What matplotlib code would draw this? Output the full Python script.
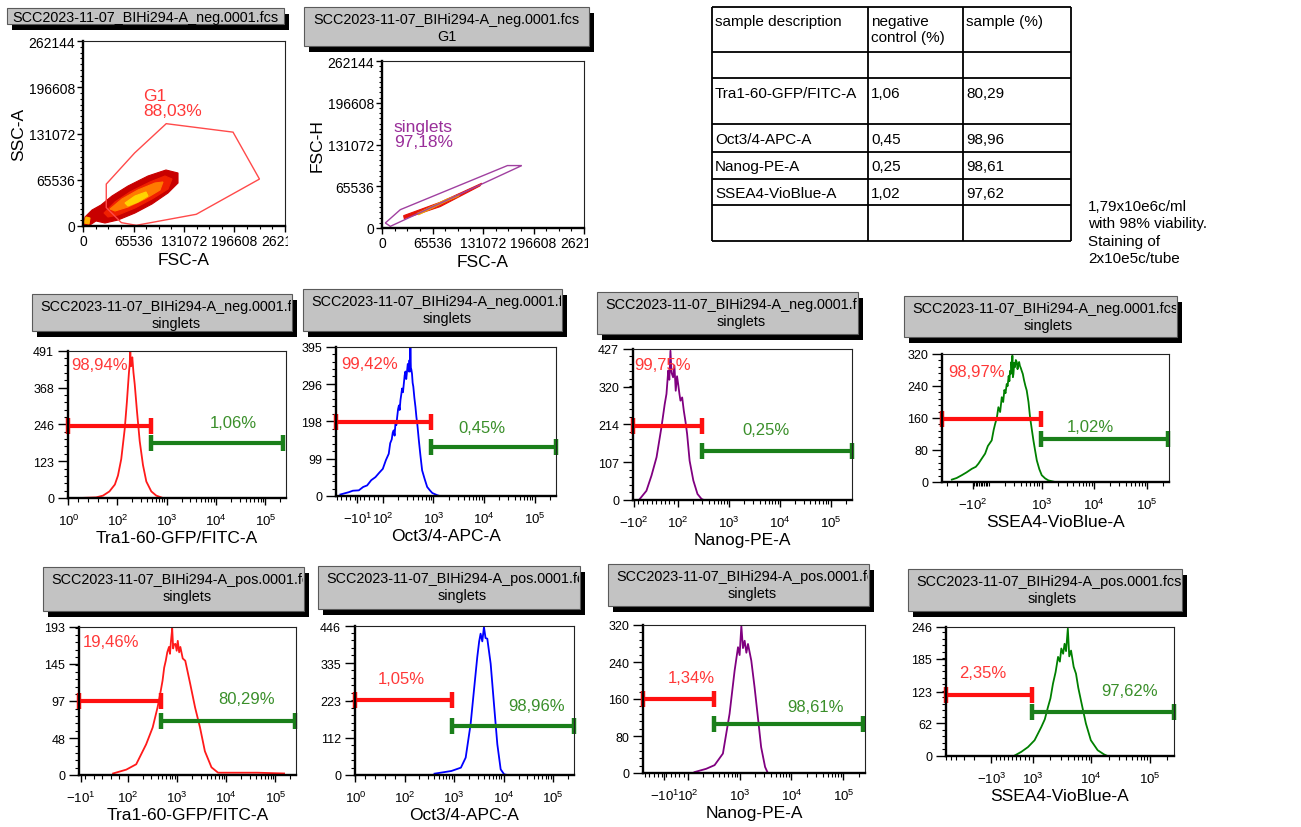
import numpy as np
import matplotlib
matplotlib.use("Agg")
import matplotlib.pyplot as plt
from matplotlib.patches import Rectangle, Polygon
from matplotlib.ticker import FixedLocator, AutoMinorLocator
from matplotlib.transforms import Bbox, TransformedBbox

plt.rcParams['font.family'] = ['Liberation Sans', 'DejaVu Sans']
plt.rcParams['mathtext.fontset'] = 'custom'
plt.rcParams['mathtext.rm'] = 'Liberation Sans'
plt.rcParams['mathtext.it'] = 'Liberation Sans:italic'
plt.rcParams['mathtext.bf'] = 'Liberation Sans:bold'

#Data

scatter_ticks = [0, 65536, 131072, 196608, 262144]
scatter_ticklabels = ["0", "65536", "131072", "196608", "262144"]

# G1 gate (FSC-A / SSC-A)
g1_gate_x = [30200, 67000, 108000, 194700, 229000, 147000, 69200, 49800, 30200]
g1_gate_y = [59400, 103500, 145000, 133000, 66500, 16600, 1000, 4750, 26100]

# density cloud layers, outer to inner
cloud_outer_x = [1300, 2600, 11700, 23360, 37630, 58400, 84350, 107700, 123300, 123300,
                 110300, 89540, 67480, 45420, 28550, 16870, 9080]
cloud_outer_y = [0, 12750, 22670, 29760, 42510, 56680, 70850, 79350, 75100, 60930,
                 46760, 31170, 18420, 8500, 4250, 7090, 1420]
cloud_red_x = [27250, 41530, 60990, 86940, 106400, 115500, 110300, 89540, 67480, 45420, 32440]
cloud_red_y = [18420, 34010, 48180, 62350, 70850, 66600, 52430, 38260, 25510, 15590, 12750]
cloud_orange_x = [35040, 50610, 71370, 93430, 103800, 99920, 80460, 58400, 41530]
cloud_orange_y = [24090, 38260, 51010, 60930, 62350, 51010, 38260, 26920, 21260]
cloud_yellow_x = [54500, 67480, 81750, 84350, 71370, 58400]
cloud_yellow_y = [32590, 42510, 48180, 42510, 34010, 28340]
debris_x = [1300, 3900, 9080, 7790]
debris_y = [4250, 12750, 11340, 2830]

# singlets gate (FSC-A / FSC-H)
singlets_gate_x = [4300, 23800, 162800, 181400, 10800]
singlets_gate_y = [7900, 28800, 98000, 98000, 2600]
streak_x = [28100, 75600, 129600, 127000, 75600, 28900]
streak_y = [19400, 40400, 70300, 66000, 33600, 14700]
streak_core_x = [45350, 84220, 101500, 99340, 84220, 47510]
streak_core_y = [23070, 45610, 53480, 49810, 41940, 20450]

# table
table_header = ["sample description", "negative\ncontrol (%)", "sample (%)"]
markers = ["Tra1-60-GFP/FITC-A", "Oct3/4-APC-A", "Nanog-PE-A", "SSEA4-VioBlue-A"]
neg_control_pct = ["1,06", "0,45", "0,25", "1,02"]
sample_pct = ["80,29", "98,96", "98,61", "97,62"]
side_note = "1,79x10e6c/ml\nwith 98% viability.\nStaining of\n2x10e5c/tube"

# histograms: intensity values and counts
tra_neg_x = [24, 57, 71, 84, 95, 103, 120, 141, 156, 172, 178, 183, 189, 195, 201, 212, 225, 250, 284, 331, 387, 488, 615, 840]
tra_neg_y = [0, 2, 8, 22, 45, 75, 130, 230, 320, 420, 445, 491, 440, 455, 470, 420, 380, 290, 190, 110, 55, 22, 8, 0]
oct_neg_x = [-84, -60, -48, -30, -4, 15, 32, 50, 68, 85, 100, 115, 131, 140, 150, 157, 164, 171, 178, 185,
             192, 200, 208, 215, 223, 232, 240, 250, 260, 270, 280, 290, 302, 311, 320, 328, 336, 343, 350, 358,
             366, 377, 388, 400, 420, 441, 460, 480, 514, 550, 597, 670, 751, 850, 947, 1190, 1330]
oct_neg_y = [4, 8, 10, 14, 15, 24, 28, 42, 50, 62, 72, 95, 112, 140, 150, 168, 174, 160, 195, 188,
             209, 230, 240, 228, 254, 270, 285, 275, 298, 320, 330, 310, 333, 350, 345, 330, 360, 330, 395, 340,
             335, 324, 300, 290, 260, 236, 210, 190, 148, 110, 68, 45, 24, 15, 8, 2, 0]
nanog_neg_x = [-74, -44, -21, 2, 24, 39, 47, 55, 60, 65, 70, 77, 83, 89, 95, 100, 106, 111, 120, 129,
               140, 150, 168, 199, 240, 288, 320]
nanog_neg_y = [3, 26, 69, 121, 205, 271, 300, 366, 340, 422, 360, 347, 380, 309, 350, 328, 300, 281, 290, 253,
               220, 187, 111, 55, 17, 3, 0]
ssea_neg_x = [-247, -200, -160, -130, -103, -60, -28, 10, 52, 85, 112, 122, 130, 140, 150, 162, 174, 185, 195,
              205, 216, 225, 235, 243, 250, 258, 265, 271, 277, 283, 290, 300, 309, 322, 335, 347, 359, 372, 385,
              400, 416, 437, 460, 490, 518, 560, 600, 650, 695, 750, 806, 900, 1000, 1160, 1340, 1790]
ssea_neg_y = [6, 10, 17, 24, 33, 38, 46, 58, 71, 90, 104, 130, 145, 160, 187, 175, 212, 200, 230,
              222, 245, 240, 265, 252, 278, 270, 300, 282, 316, 262, 270, 298, 287, 305, 300, 282, 295, 300, 290,
              285, 278, 270, 255, 240, 229, 200, 162, 130, 104, 78, 54, 32, 17, 9, 4, 0]
tra_pos_x = [65, 96, 147, 234, 318, 399, 450, 505, 545, 587, 630, 683, 715, 750, 794, 830, 860, 924, 980, 1030,
             1100, 1163, 1300, 1464, 1843, 2320, 2920, 3670, 5000, 6800, 12500, 43000, 150000]
tra_pos_y = [2, 7, 14, 40, 62, 88, 105, 123, 140, 149, 160, 167, 158, 175, 191, 165, 170, 171, 162, 175,
             160, 167, 152, 149, 119, 88, 62, 31, 10, 3, 3, 3, 2]
oct_pos_x = [402, 880, 1370, 1710, 2150, 2510, 2930, 3200, 3420, 3700, 4000, 4300, 4670, 5460, 6370,
             7440, 8690, 10200, 11900]
oct_pos_y = [4, 12, 22, 52, 152, 253, 353, 400, 423, 400, 443, 410, 408, 333, 212, 92, 17, 2, 0]
nanog_pos_x = [135, 226, 329, 476, 640, 800, 931, 1000, 1080, 1160, 1250, 1350, 1450, 1680, 1940,
               2250, 2600, 3100, 3500]
nanog_pos_y = [2, 9, 17, 42, 128, 221, 272, 255, 318, 270, 286, 260, 279, 243, 186, 121, 56, 13, 0]
ssea_pos_x = [127, 444, 762, 1068, 1390, 1600, 1810, 2000, 2210, 2450, 2700, 2900, 3070, 3300, 3490, 3700,
              3970, 4200, 4510, 5000, 5480, 6000, 6660, 8100, 9850, 12900, 16600, 19000]
ssea_pos_y = [1, 8, 17, 30, 55, 70, 93, 110, 138, 160, 189, 180, 205, 195, 214, 200,
              243, 190, 201, 170, 157, 130, 106, 62, 30, 11, 3, 0]

hist_x = [tra_neg_x, oct_neg_x, nanog_neg_x, ssea_neg_x, tra_pos_x, oct_pos_x, nanog_pos_x, ssea_pos_x]
hist_y = [tra_neg_y, oct_neg_y, nanog_neg_y, ssea_neg_y, tra_pos_y, oct_pos_y, nanog_pos_y, ssea_pos_y]
hist_files = ["neg"] * 4 + ["pos"] * 4
hist_labels = markers + markers

y_ticklabels = [[0, 123, 246, 368, 491], [0, 99, 198, 296, 395], [0, 107, 214, 320, 427],
                [0, 80, 160, 240, 320], [0, 48, 97, 145, 193], [0, 112, 223, 335, 446],
                [0, 80, 160, 240, 320], [0, 62, 123, 185, 246]]
x_ticks = [[1, 100, 1e3, 1e4, 1e5], [-10, 100, 1e3, 1e4, 1e5], [-100, 100, 1e3, 1e4, 1e5],
           [-100, 1e3, 1e4, 1e5], [-10, 100, 1e3, 1e4, 1e5], [1, 100, 1e3, 1e4, 1e5],
           [-10, 100, 1e3, 1e4, 1e5], [-1e3, 1e3, 1e4, 1e5]]
x_ticklabels = [[r"$10^{0}$", r"$10^{2}$", r"$10^{3}$", r"$10^{4}$", r"$10^{5}$"],
                [r"$-10^{1}$", r"$10^{2}$", r"$10^{3}$", r"$10^{4}$", r"$10^{5}$"],
                [r"$-10^{2}$", r"$10^{2}$", r"$10^{3}$", r"$10^{4}$", r"$10^{5}$"],
                [r"$-10^{2}$", r"$10^{3}$", r"$10^{4}$", r"$10^{5}$"],
                [r"$-10^{1}$", r"$10^{2}$", r"$10^{3}$", r"$10^{4}$", r"$10^{5}$"],
                [r"$10^{0}$", r"$10^{2}$", r"$10^{3}$", r"$10^{4}$", r"$10^{5}$"],
                [r"$-10^{1}$", r"$10^{2}$", r"$10^{3}$", r"$10^{4}$", r"$10^{5}$"],
                [r"$-10^{3}$", r"$10^{3}$", r"$10^{4}$", r"$10^{5}$"]]

# gates: red covers [axis min, split], green covers [split, green_end]
gate_split = [490, 900, 290, 970, 470, 910, 316, 980]
green_end = [230000, 257000, 260000, 251000, 250000, 262144, 240000, 262144]
red_gate_y = [241, 196, 210, 158, 97, 224, 160, 117]
green_gate_y = [183, 130, 139, 108, 71, 147, 105, 83]
red_pct = ["98,94%", "99,42%", "99,75%", "98,97%", "19,46%", "1,05%", "1,34%", "2,35%"]
green_pct = ["1,06%", "0,45%", "0,25%", "1,02%", "80,29%", "98,96%", "98,61%", "97,62%"]

#Layout (pixels)

W, H = 1301, 828
x_max = 262144
# symlog settings approximating the logicle display: (linthresh, linscale, left limit)
scale_cfg = [(100, 0.9, 0), (100, 0.41, -103), (100, 0.39, -105), (100, 0.142, -380),
             (100, 0.78, -15), (100, 0.9, 0), (100, 0.37, -110), (1000, 0.32, -6000)]
hist_boxes = [(68, 352, 286, 499), (336, 348, 556, 497), (633, 350, 852, 501), (942, 355, 1169, 483),
              (79, 628, 296, 776), (355, 627, 574, 776), (643, 626, 865, 774), (946, 628, 1174, 757)]
title_boxes = [(32, 295, 292, 332), (303, 290, 562, 332), (597, 293, 858, 335), (904, 297, 1177, 338),
               (43, 568, 304, 612), (318, 567, 580, 610), (608, 565, 869, 607), (908, 570, 1182, 612)]
red_txt_pos = [(0.145, 0.91), (0.152, 0.888), (0.134, 0.90), (0.154, 0.865),
               (0.146, 0.905), (0.213, 0.645), (0.218, 0.647), (0.16, 0.651)]
green_txt_pos = [(0.76, 0.515), (0.663, 0.459), (0.609, 0.47), (0.652, 0.43),
                 (0.773, 0.514), (0.828, 0.465), (0.779, 0.449), (0.806, 0.504)]
hist_colors = ["#ff1a1a", "#0000ff", "#800080", "#008000"] * 2

RED_GATE = "#ff1010"
GREEN_GATE = "#1a7f1a"
RED_TXT = "#ff3838"
GREEN_TXT = "#3a8f2a"

fig = plt.figure(figsize=(W / 100, H / 100), dpi=100)

def box_axes(l, t, r, b):
    return fig.add_axes([l / W, 1 - b / H, (r - l) / W, (b - t) / H])

def pixel_clip(l, t, r, b):
    return TransformedBbox(Bbox([[l / W, 1 - b / H], [r / W, 1 - t / H]]), fig.transFigure)

bg = fig.add_axes([0, 0, 1, 1])
bg.set_xlim(0, W)
bg.set_ylim(H, 0)
bg.axis("off")

def title_box(l, t, r, b, lines, centered):
    bg.add_patch(Rectangle((l + 5, t + 6), r - l, b - t, facecolor="black", edgecolor="none", zorder=1))
    bg.add_patch(Rectangle((l, t), r - l, b - t, facecolor="#c3c3c3", edgecolor="#5a5a5a", lw=0.8, zorder=2))
    if centered:
        bg.text((l + r) / 2, (t + b) / 2 + 1, "\n".join(lines), ha="center", va="center",
                fontsize=10.4, linespacing=1.2, zorder=3)
    else:
        t1 = bg.text(l + 8, t + 12, lines[0], ha="left", va="center", fontsize=10.4, zorder=3)
        t1.set_clip_box(pixel_clip(l, t, r - 1, b))
        t1.set_clip_on(True)
        bg.text(l + 8 + 136, t + 29, lines[1], ha="center", va="center", fontsize=10.4, zorder=3)

def style_spines(ax):
    for s in ["left", "bottom"]:
        ax.spines[s].set_linewidth(1.7)
        ax.spines[s].set_color("black")
    for s in ["top", "right"]:
        ax.spines[s].set_linewidth(0.8)
        ax.spines[s].set_color("#222222")

def clip_xticklabels(ax, right_px):
    clip = pixel_clip(0, 0, right_px, H)
    for tk in ax.xaxis.get_major_ticks():
        tk.label1.set_clip_box(clip)
        tk.label1.set_clip_on(True)

def scatter_axes(box, ylabel, clip_px):
    ax = box_axes(*box)
    ax.set_xlim(0, x_max)
    ax.set_ylim(0, x_max)
    ax.set_xticks(scatter_ticks, scatter_ticklabels, fontsize=10)
    ax.set_yticks(scatter_ticks, scatter_ticklabels, fontsize=10)
    ax.xaxis.set_minor_locator(AutoMinorLocator(4))
    ax.yaxis.set_minor_locator(AutoMinorLocator(8))
    style_spines(ax)
    ax.tick_params(which="major", direction="out", length=4, width=1, pad=1.5)
    ax.tick_params(which="minor", direction="out", length=2.5, width=0.8)
    ax.set_xlabel("FSC-A", fontsize=12.5, labelpad=3)
    ax.set_ylabel(ylabel, fontsize=12.5, labelpad=2)
    clip_xticklabels(ax, clip_px)
    return ax

#Top row: scatter plots

title_box(7, 9, 284, 25, ["SCC2023-11-07_BIHi294-A_neg.0001.fcs"], True)
ax = scatter_axes((83, 42, 285, 227), "SSC-A", 288)
for xs, ys, c in [(cloud_outer_x, cloud_outer_y, "#c80000"), (cloud_red_x, cloud_red_y, "#f02000"),
                  (cloud_orange_x, cloud_orange_y, "#ff7a00"), (cloud_yellow_x, cloud_yellow_y, "#ffd400"),
                  (debris_x, debris_y, "#ffb000")]:
    ax.add_patch(Polygon(np.column_stack([xs, ys]), closed=True, facecolor=c, edgecolor=c, lw=0.8))
ax.add_patch(Polygon(np.column_stack([g1_gate_x, g1_gate_y]), closed=True, fill=False,
                     edgecolor="#ff4a4a", lw=1.0))
ax.text(78000, 196000, "G1\n88,03%", color=RED_TXT, fontsize=12.5, ha="left", va="top", linespacing=1.05)

title_box(304, 8, 589, 47, ["SCC2023-11-07_BIHi294-A_neg.0001.fcs", "G1"], True)
ax = scatter_axes((382, 62, 584, 229), "FSC-H", 588)
ax.add_patch(Polygon(np.column_stack([streak_x, streak_y]), closed=True, facecolor="#e8140a",
                     edgecolor="#e8140a", lw=0.8))
ax.add_patch(Polygon(np.column_stack([streak_core_x, streak_core_y]), closed=True, facecolor="#f0a800",
                     edgecolor="#f0a800", lw=0.5))
ax.add_patch(Polygon(np.column_stack([singlets_gate_x, singlets_gate_y]), closed=True, fill=False,
                     edgecolor="#a040a0", lw=1.0))
ax.text(15100, 171400, "singlets\n97,18%", color="#9a2f9a", fontsize=12.5, ha="left", va="top",
        linespacing=1.05)

#Table

col_x = [712, 868, 963, 1071]
row_y = [8, 53, 79, 125, 153, 180, 206, 242]
for yy in row_y:
    bg.plot([col_x[0], col_x[-1]], [yy, yy], color="black", lw=1.3, solid_capstyle="butt")
for xx in col_x:
    bg.plot([xx, xx], [row_y[0], row_y[-1]], color="black", lw=1.3, solid_capstyle="butt")
for xx, txt in zip(col_x[:3], table_header):
    bg.text(xx + 3, row_y[0] + 7, txt, fontsize=11, ha="left", va="top", linespacing=1.15)
row_centers = [94, 140, 167, 194]
for yy, m, n, s in zip(row_centers, markers, neg_control_pct, sample_pct):
    bg.text(col_x[0] + 3, yy, m, fontsize=11, ha="left", va="center")
    bg.text(col_x[1] + 3, yy, n, fontsize=11, ha="left", va="center")
    bg.text(col_x[2] + 3, yy, s, fontsize=11, ha="left", va="center")
bg.text(1088, 200, side_note, fontsize=11, ha="left", va="top", linespacing=1.3)

#Histograms

def minor_positions(lin, xmin):
    ticks = []
    for k in range(int(np.log10(lin)), 6):
        for m in range(2, 10):
            v = m * 10 ** k
            if v <= x_max:
                ticks.append(v)
            if -v >= xmin:
                ticks.append(-v)
    ticks += list(np.linspace(-lin, lin, 11))
    return [t for t in ticks if xmin <= t <= x_max]

for i in range(8):
    l, t, r, b = title_boxes[i]
    title_box(l, t, r, b, ["SCC2023-11-07_BIHi294-A_%s.0001.fcs" % hist_files[i], "singlets"], False)

    lin, lsc, xmin = scale_cfg[i]
    ax = box_axes(*hist_boxes[i])
    ax.set_xscale("symlog", linthresh=lin, linscale=lsc)
    ax.plot(hist_x[i], hist_y[i], color=hist_colors[i], lw=1.3)
    ymax = y_ticklabels[i][-1]
    ax.set_xlim(xmin, x_max)
    ax.set_ylim(0, ymax)
    ax.set_xticks(x_ticks[i], x_ticklabels[i], fontsize=9.5)
    ax.xaxis.set_minor_locator(FixedLocator(minor_positions(lin, xmin)))
    ax.set_yticks(y_ticklabels[i], [str(v) for v in y_ticklabels[i]], fontsize=9)
    ax.yaxis.set_minor_locator(AutoMinorLocator(5))
    style_spines(ax)
    ax.tick_params(axis="x", which="major", direction="out", length=5, width=1, pad=6)
    ax.tick_params(axis="y", which="major", direction="out", length=7, width=1, pad=3)
    ax.tick_params(which="minor", direction="out", length=3, width=0.8)
    ax.set_xlabel(hist_labels[i], fontsize=12.5, labelpad=1)

    # gates
    split = gate_split[i]
    ax.plot([xmin, split], [red_gate_y[i]] * 2, color=RED_GATE, lw=3, solid_capstyle="butt", clip_on=False)
    ax.plot([xmin, split], [red_gate_y[i]] * 2, ls="none", marker="|", ms=12, mew=3.2,
            color=RED_GATE, clip_on=False)
    ax.plot([split, green_end[i]], [green_gate_y[i]] * 2, color=GREEN_GATE, lw=3, solid_capstyle="butt",
            clip_on=False)
    ax.plot([split, green_end[i]], [green_gate_y[i]] * 2, ls="none", marker="|", ms=12, mew=3.2,
            color=GREEN_GATE, clip_on=False)
    ax.text(*red_txt_pos[i], red_pct[i], transform=ax.transAxes, color=RED_TXT, fontsize=12,
            ha="center", va="center")
    ax.text(*green_txt_pos[i], green_pct[i], transform=ax.transAxes, color=GREEN_TXT, fontsize=12,
            ha="center", va="center")

fig.savefig("out.png", dpi=100)
